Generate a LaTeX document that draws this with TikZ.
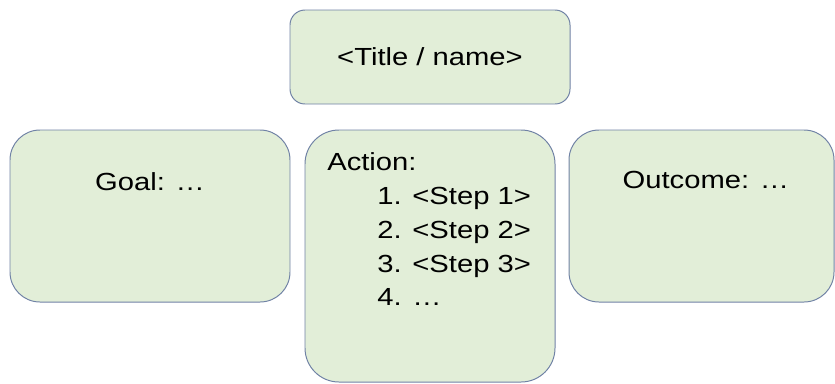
\documentclass[tikz,border=0pt]{standalone}
\usepackage{fontspec}
\setmainfont{Liberation Sans}[FakeStretch=1.18]
\definecolor{cardfill}{RGB}{226,238,216}
\definecolor{cardline}{RGB}{112,130,165}
\tikzset{
  card/.style={draw=cardline,fill=cardfill,line width=0.7pt,inner sep=0pt},
  cardtext/.style={font=\fontsize{17.6}{24}\selectfont,inner sep=0pt},
}
\begin{document}
\begin{tikzpicture}
\clip (0,0) rectangle (20.875,-9.575);
% boxes
\node[card,cardtext,rounded corners=0.375cm,minimum width=7cm,minimum height=2.35cm] (title) at (10.75,-1.425) {<Title / name>};
\node[card,rounded corners=0.75cm,minimum width=7cm,minimum height=4.3cm] (goal) at (3.75,-5.4) {};
\node[card,rounded corners=0.85cm,minimum width=6.25cm,minimum height=6.3cm] (action) at (10.75,-6.4) {};
\node[card,rounded corners=0.75cm,minimum width=6.625cm,minimum height=4.3cm] (outcome) at (17.5375,-5.4) {};
% texts
\node[cardtext,anchor=base] (goaltext) at ([yshift=-1.525cm]goal.north) {Goal: …};
\node[cardtext,anchor=base] (outcometext) at ([xshift=0.11cm,yshift=-1.475cm]outcome.north) {Outcome: …};
\node[cardtext,anchor=base west] (actiontext) at (8.175,-4.25) {Action:};
\node[cardtext,anchor=base west] (stepa) at (9.425,-5.1) {1. <Step 1>};
\node[cardtext,anchor=base west] (stepb) at (9.425,-5.95) {2. <Step 2>};
\node[cardtext,anchor=base west] (stepc) at (9.425,-6.8) {3. <Step 3>};
\node[cardtext,anchor=base west] (stepd) at (9.425,-7.625) {4. …};
\end{tikzpicture}
\end{document}
